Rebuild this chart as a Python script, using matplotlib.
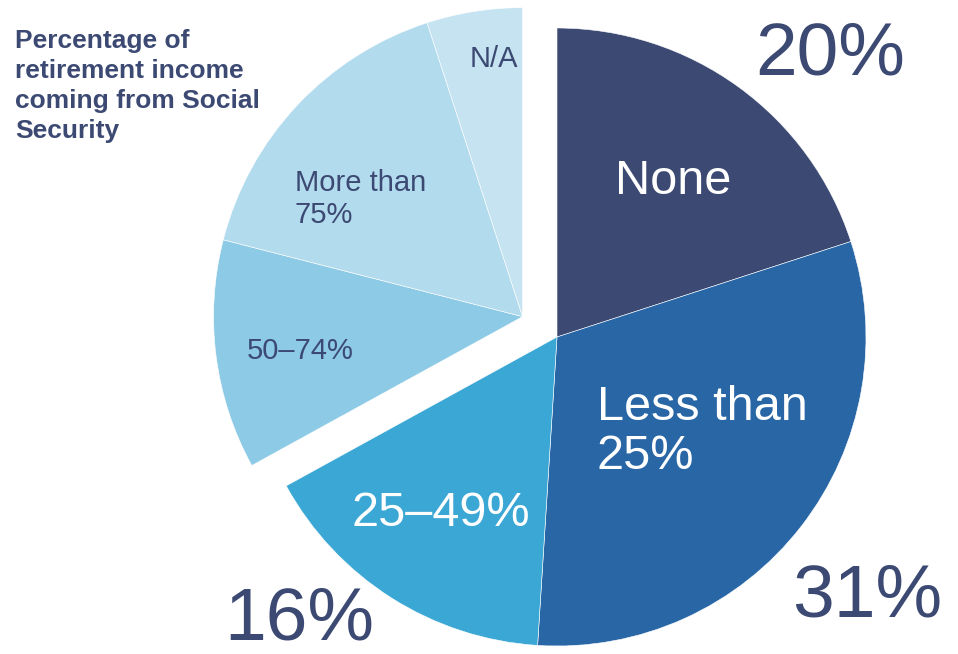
import numpy as np
import matplotlib.pyplot as plt

plt.rcParams['font.family'] = ['Liberation Sans', 'DejaVu Sans']

categories = ["None", "Less than 25%", "25–49%", "50–74%", "More than 75%", "N/A"]
shares = [20, 31, 16, 12, 16, 5]
colors = ["#3C4A73", "#2866A5", "#3BA7D5", "#8DCAE5", "#B3DBEE", "#C5E3F1"]
pulled_out = ["50–74%", "More than 75%", "N/A"]

navy = "#3C4A73"
W, H = 958, 654

fig = plt.figure(figsize=(W / 100, H / 100), dpi=100)
ax = fig.add_axes([0, 0, 1, 1])

cx, cy, r = 557, H - 337, 309
wedges, _ = ax.pie(shares, colors=colors, startangle=90, counterclock=False,
                   center=(cx, cy), radius=r,
                   wedgeprops=dict(edgecolor="white", linewidth=0.4))

# pull the last three slices out together, along their common mid angle
grp = [w for w, c in zip(wedges, categories) if c in pulled_out]
t1 = min(w.theta1 for w in grp)
t2 = max(w.theta2 for w in grp)
mid = np.deg2rad((t1 + t2) / 2)
dist = 40
for w in grp:
    w.set_center((cx + dist * np.cos(mid), cy + dist * np.sin(mid)))

ax.set_xlim(0, W)
ax.set_ylim(0, H)
ax.set_aspect("equal")
ax.axis("off")


def put(x, y, s, **kw):
    ax.text(x, H - y, s, **kw)


put(15, 29, "Percentage of\nretirement income\ncoming from Social\nSecurity",
    fontsize=19, fontweight="bold", color=navy, ha="left", va="top",
    linespacing=1.32)

# slice labels
put(673, 181, "None", fontsize=35, color="white", ha="center", va="center")
put(597, 432, "Less than\n25%", fontsize=35, color="white", ha="left", va="center",
    linespacing=1.12)
put(441, 513, "25–49%", fontsize=35, color="white", ha="center", va="center")
put(295, 199, "More than\n75%", fontsize=21, color=navy, ha="left", va="center",
    linespacing=1.2)
put(247, 351, "50–74%", fontsize=21, color=navy, ha="left", va="center")
put(494, 59, "N/A", fontsize=21, color=navy, ha="center", va="center")

# headline percentages
pct = dict(zip(categories, shares))
put(830, 55, f"{pct['None']}%", fontsize=54, color=navy, ha="center", va="center")
put(867, 597, f"{pct['Less than 25%']}%", fontsize=54, color=navy, ha="center", va="center")
put(299, 620, f"{pct['25–49%']}%", fontsize=54, color=navy, ha="center", va="center")

fig.savefig("out.png", dpi=100)
